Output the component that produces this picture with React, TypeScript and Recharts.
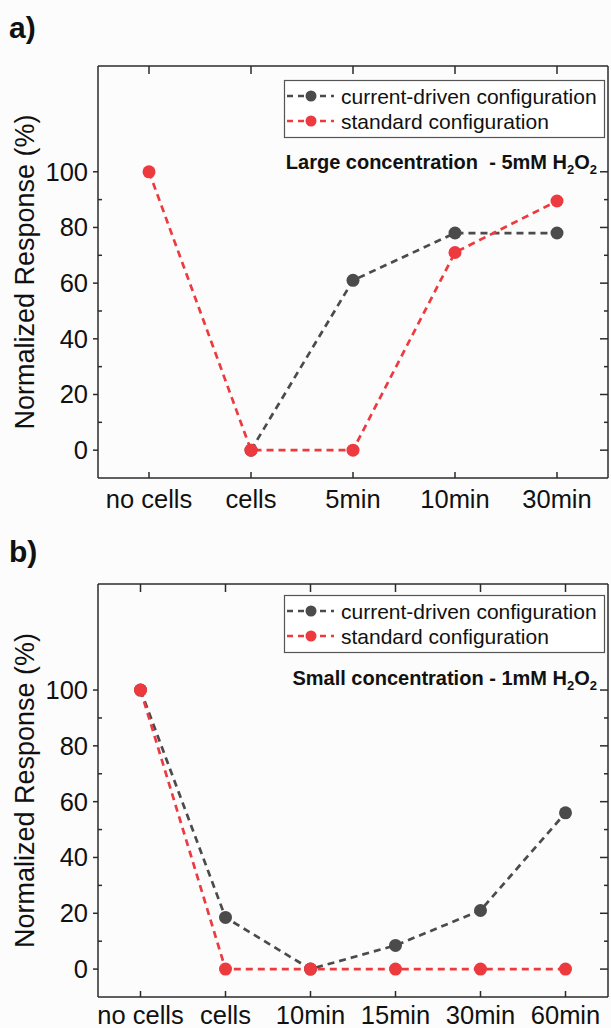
import React from "react";
import { LineChart, Line, XAxis, YAxis } from "recharts";

// panel a) large concentration (current-driven series starts at "cells")
const catsA = ["no cells", "cells", "5min", "10min", "30min"];
const currentA: (number | null)[] = [null, 0, 61, 78, 78];
const standardA = [100, 0, 0, 71, 89.5];

// panel b) small concentration
const catsB = ["no cells", "cells", "10min", "15min", "30min", "60min"];
const currentB = [100, 18.5, 0, 8.5, 21, 56];
const standardB = [100, 0, 0, 0, 0, 0];

const yTicks = [0, 10, 20, 30, 40, 50, 60, 70, 80, 90, 100];
const yDomain: [number, number] = [-10, 138];

const seriesNames = ["current-driven configuration", "standard configuration"];

const FONT = '"Liberation Sans", Arial, Helvetica, sans-serif';
const AXIS = "#2b2b2b";
const GRAY = "#4b4b4b";
const RED = "#ec3a3f";
const W = 611;
const PLOT_LEFT = 98;
const PLOT_RIGHT = 608;
const PLOT_TOP = 66;

function buildRows(cats: string[], cur: (number | null)[], std: number[]) {
  return cats.map((cat, i) => ({ cat, current: cur[i], standard: std[i] }));
}

function LeftTick({ x, y, payload }: any) {
  const major = payload.value % 20 === 0;
  if (!major) {
    return <line x1={x} x2={x + 4} y1={y} y2={y} stroke={AXIS} strokeWidth={1.5} />;
  }
  return (
    <g>
      <line x1={x - 5} x2={x} y1={y} y2={y} stroke={AXIS} strokeWidth={1.5} />
      <text x={x - 10} y={y} textAnchor="end" dominantBaseline="central" fontSize={25.5} fontFamily={FONT} fill="#111">
        {payload.value}
      </text>
    </g>
  );
}

function RightTick({ x, y, payload }: any) {
  const len = payload.value % 20 === 0 ? 8 : 4;
  return <line x1={x - len} x2={x} y1={y} y2={y} stroke={AXIS} strokeWidth={1.5} />;
}

function TopTick({ x, y }: any) {
  return <line x1={x} x2={x} y1={y} y2={y + 8} stroke={AXIS} strokeWidth={1.5} />;
}

function BottomTick({ x, y, payload, gap }: any) {
  return (
    <g>
      <line x1={x} x2={x} y1={y - 6} y2={y} stroke={AXIS} strokeWidth={1.5} />
      <text x={x} y={y + gap} textAnchor="middle" fontSize={25.5} fontFamily={FONT} fill="#111">
        {payload.value}
      </text>
    </g>
  );
}

function Legend({ top }: { top: number }) {
  const colors = [GRAY, RED];
  return (
    <g>
      <rect x={284.5} y={top + 0.5} width={320} height={57} fill="#fff" stroke="#555" strokeWidth={1.2} />
      {seriesNames.map((name, i) => {
        const cy = top + 16 + i * 25;
        return (
          <g key={name}>
            <line x1={287} x2={334} y1={cy} y2={cy} stroke={colors[i]} strokeWidth={2.5} strokeDasharray="6 5" />
            <circle cx={311} cy={cy} r={5.5} fill={colors[i]} />
            <text x={341} y={cy} dominantBaseline="central" fontSize={21} fontFamily={FONT} fill="#111">
              {name}
            </text>
          </g>
        );
      })}
    </g>
  );
}

function Panel(props: {
  top: number;
  height: number;
  bottomHeight: number;
  cats: string[];
  cur: (number | null)[];
  std: number[];
  letter: string;
  letterY: number;
  legendTop: number;
  note: string;
  noteY: number;
  labelGap: number;
}) {
  const { top, height, bottomHeight, cats, cur, std } = props;
  const data = buildRows(cats, cur, std);
  const pad = (PLOT_RIGHT - PLOT_LEFT) / cats.length / 2;
  const plotMid = (PLOT_TOP + height - bottomHeight) / 2;
  return (
    <div style={{ position: "absolute", left: 0, top, width: W, height }}>
      <LineChart width={W} height={height} data={data} margin={{ top: 0, right: 0, bottom: 0, left: 0 }}>
        <XAxis
          dataKey="cat"
          type="category"
          height={bottomHeight}
          padding={{ left: pad, right: pad }}
          interval={0}
          tickSize={0}
          tickMargin={0}
          tickLine={false}
          axisLine={{ stroke: AXIS, strokeWidth: 1.5 }}
          tick={(p: any) => <BottomTick {...p} gap={props.labelGap} />}
        />
        <XAxis
          xAxisId="t"
          orientation="top"
          dataKey="cat"
          type="category"
          height={PLOT_TOP}
          padding={{ left: pad, right: pad }}
          interval={0}
          tickSize={0}
          tickMargin={0}
          tickLine={false}
          axisLine={{ stroke: AXIS, strokeWidth: 1.5 }}
          tick={(p: any) => <TopTick {...p} />}
        />
        <YAxis
          type="number"
          width={PLOT_LEFT}
          domain={yDomain}
          ticks={yTicks}
          allowDataOverflow
          interval={0}
          tickSize={0}
          tickMargin={0}
          tickLine={false}
          axisLine={{ stroke: AXIS, strokeWidth: 1.5 }}
          tick={(p: any) => <LeftTick {...p} />}
        />
        <YAxis
          yAxisId="r"
          orientation="right"
          type="number"
          width={W - PLOT_RIGHT}
          domain={yDomain}
          ticks={yTicks}
          allowDataOverflow
          interval={0}
          tickSize={0}
          tickMargin={0}
          tickLine={false}
          axisLine={{ stroke: AXIS, strokeWidth: 1.5 }}
          tick={(p: any) => <RightTick {...p} />}
        />
        <Line
          type="linear"
          dataKey="current"
          stroke={GRAY}
          strokeWidth={2.7}
          strokeDasharray="7 5"
          dot={{ r: 6.5, fill: GRAY, stroke: GRAY, strokeWidth: 0 }}
          activeDot={false}
          isAnimationActive={false}
        />
        <Line
          type="linear"
          dataKey="standard"
          stroke={RED}
          strokeWidth={2.7}
          strokeDasharray="7 5"
          dot={{ r: 6.5, fill: RED, stroke: RED, strokeWidth: 0 }}
          activeDot={false}
          isAnimationActive={false}
        />
      </LineChart>
      <svg width={W} height={height} style={{ position: "absolute", left: 0, top: 0, pointerEvents: "none" }}>
        <text x={9} y={props.letterY} fontSize={30} fontWeight="bold" fontFamily={FONT} fill="#111">
          {props.letter}
        </text>
        <text
          transform={`translate(25, ${plotMid}) rotate(-90)`}
          textAnchor="middle"
          dominantBaseline="central"
          fontSize={27}
          fontFamily={FONT}
          fill="#111"
        >
          Normalized Response (%)
        </text>
        <Legend top={props.legendTop} />
        <text
          x={597}
          y={props.noteY}
          textAnchor="end"
          fontSize={20}
          fontWeight="bold"
          fontFamily={FONT}
          fill="#111"
          style={{ whiteSpace: "pre" }}
        >
          {props.note}H
          <tspan dy={5} fontSize={13}>2</tspan>
          <tspan dy={-5}>O</tspan>
          <tspan dy={5} fontSize={13}>2</tspan>
        </text>
      </svg>
    </div>
  );
}

export default function App() {
  return (
    <div
      style={{
        position: "absolute",
        left: 0,
        top: 0,
        width: W,
        height: 1028,
        background: "#fcfcfc",
        fontFamily: FONT,
      }}
    >
      <Panel
        top={0}
        height={520}
        bottomHeight={42}
        cats={catsA}
        cur={currentA}
        std={standardA}
        letter="a)"
        letterY={38}
        legendTop={80}
        note="Large concentration  - 5mM "
        noteY={169}
        labelGap={30}
      />
      <Panel
        top={518}
        height={510}
        bottomHeight={31}
        cats={catsB}
        cur={currentB}
        std={standardB}
        letter="b)"
        letterY={44}
        legendTop={77}
        note="Small concentration - 1mM "
        noteY={167}
        labelGap={27}
      />
    </div>
  );
}
